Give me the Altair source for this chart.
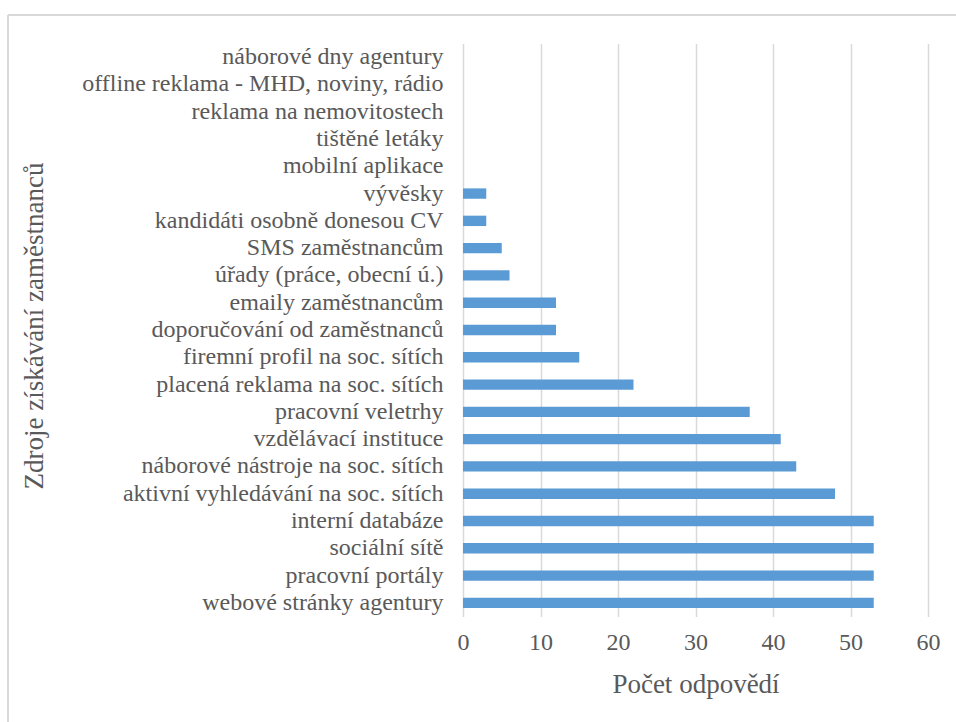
import altair as alt
import pandas as pd

categories = [
    "náborové dny agentury",
    "offline reklama - MHD, noviny, rádio",
    "reklama na nemovitostech",
    "tištěné letáky",
    "mobilní aplikace",
    "vývěsky",
    "kandidáti osobně donesou CV",
    "SMS zaměstnancům",
    "úřady (práce, obecní ú.)",
    "emaily zaměstnancům",
    "doporučování od zaměstnanců",
    "firemní profil na soc. sítích",
    "placená reklama na soc. sítích",
    "pracovní veletrhy",
    "vzdělávací instituce",
    "náborové nástroje na soc. sítích",
    "aktivní vyhledávání na soc. sítích",
    "interní databáze",
    "sociální sítě",
    "pracovní portály",
    "webové stránky agentury",
]
values = [0, 0, 0, 0, 0, 3, 3, 5, 6, 12, 12, 15, 22, 37, 41, 43, 48, 53, 53, 53, 53]
x_ticks = [0, 10, 20, 30, 40, 50, 60]

df = pd.DataFrame({"zdroj": categories, "pocet": values})

FONT = "Liberation Serif, Times New Roman, serif"
GRAY = "#595959"

bars = alt.Chart(df).mark_bar(color="#5b9bd5").encode(
    x=alt.X(
        "pocet:Q",
        scale=alt.Scale(domain=[0, 60], nice=False),
        axis=alt.Axis(
            values=x_ticks,
            title="Počet odpovědí",
            grid=True,
            gridColor="#d9d9d9",
            gridWidth=1.5,
            domain=False,
            ticks=False,
            labelFlush=False,
            labelPadding=14,
            labelFontSize=24,
            labelColor=GRAY,
            labelFont=FONT,
            titleFont=FONT,
            titleFontSize=27,
            titleFontWeight="normal",
            titleColor=GRAY,
            titlePadding=17,
        ),
    ),
    y=alt.Y(
        "zdroj:N",
        sort=categories,
        scale=alt.Scale(paddingInner=0.62, paddingOuter=0.31),
        axis=alt.Axis(
            title="Zdroje získávání zaměstnanců",
            domain=False,
            ticks=False,
            labelPadding=20,
            labelFontSize=24,
            labelColor=GRAY,
            labelFont=FONT,
            labelLimit=500,
            titleFont=FONT,
            titleFontSize=27,
            titleFontWeight="normal",
            titleColor=GRAY,
            titleX=-415,
            titleY=282,
        ),
    ),
)

frame_top = alt.Chart(df).mark_rule(color="#d9d9d9", strokeWidth=2).encode(
    x=alt.value(-455), x2=alt.value(520), y=alt.value(-28.5)
)
frame_left = alt.Chart(df).mark_rule(color="#d9d9d9", strokeWidth=2).encode(
    x=alt.value(-455), y=alt.value(-28.5), y2=alt.value(720)
)

chart = (
    alt.layer(frame_top, frame_left, bars)
    .properties(
        width=465,
        height=573,
        autosize=alt.AutoSizeParams(type="none"),
        padding={"left": 463, "top": 43.5, "right": 28, "bottom": 105.5},
        background="white",
    )
    .configure_view(stroke=None)
)

chart.save("out.html", embed_options={"renderer": "svg", "actions": False})
